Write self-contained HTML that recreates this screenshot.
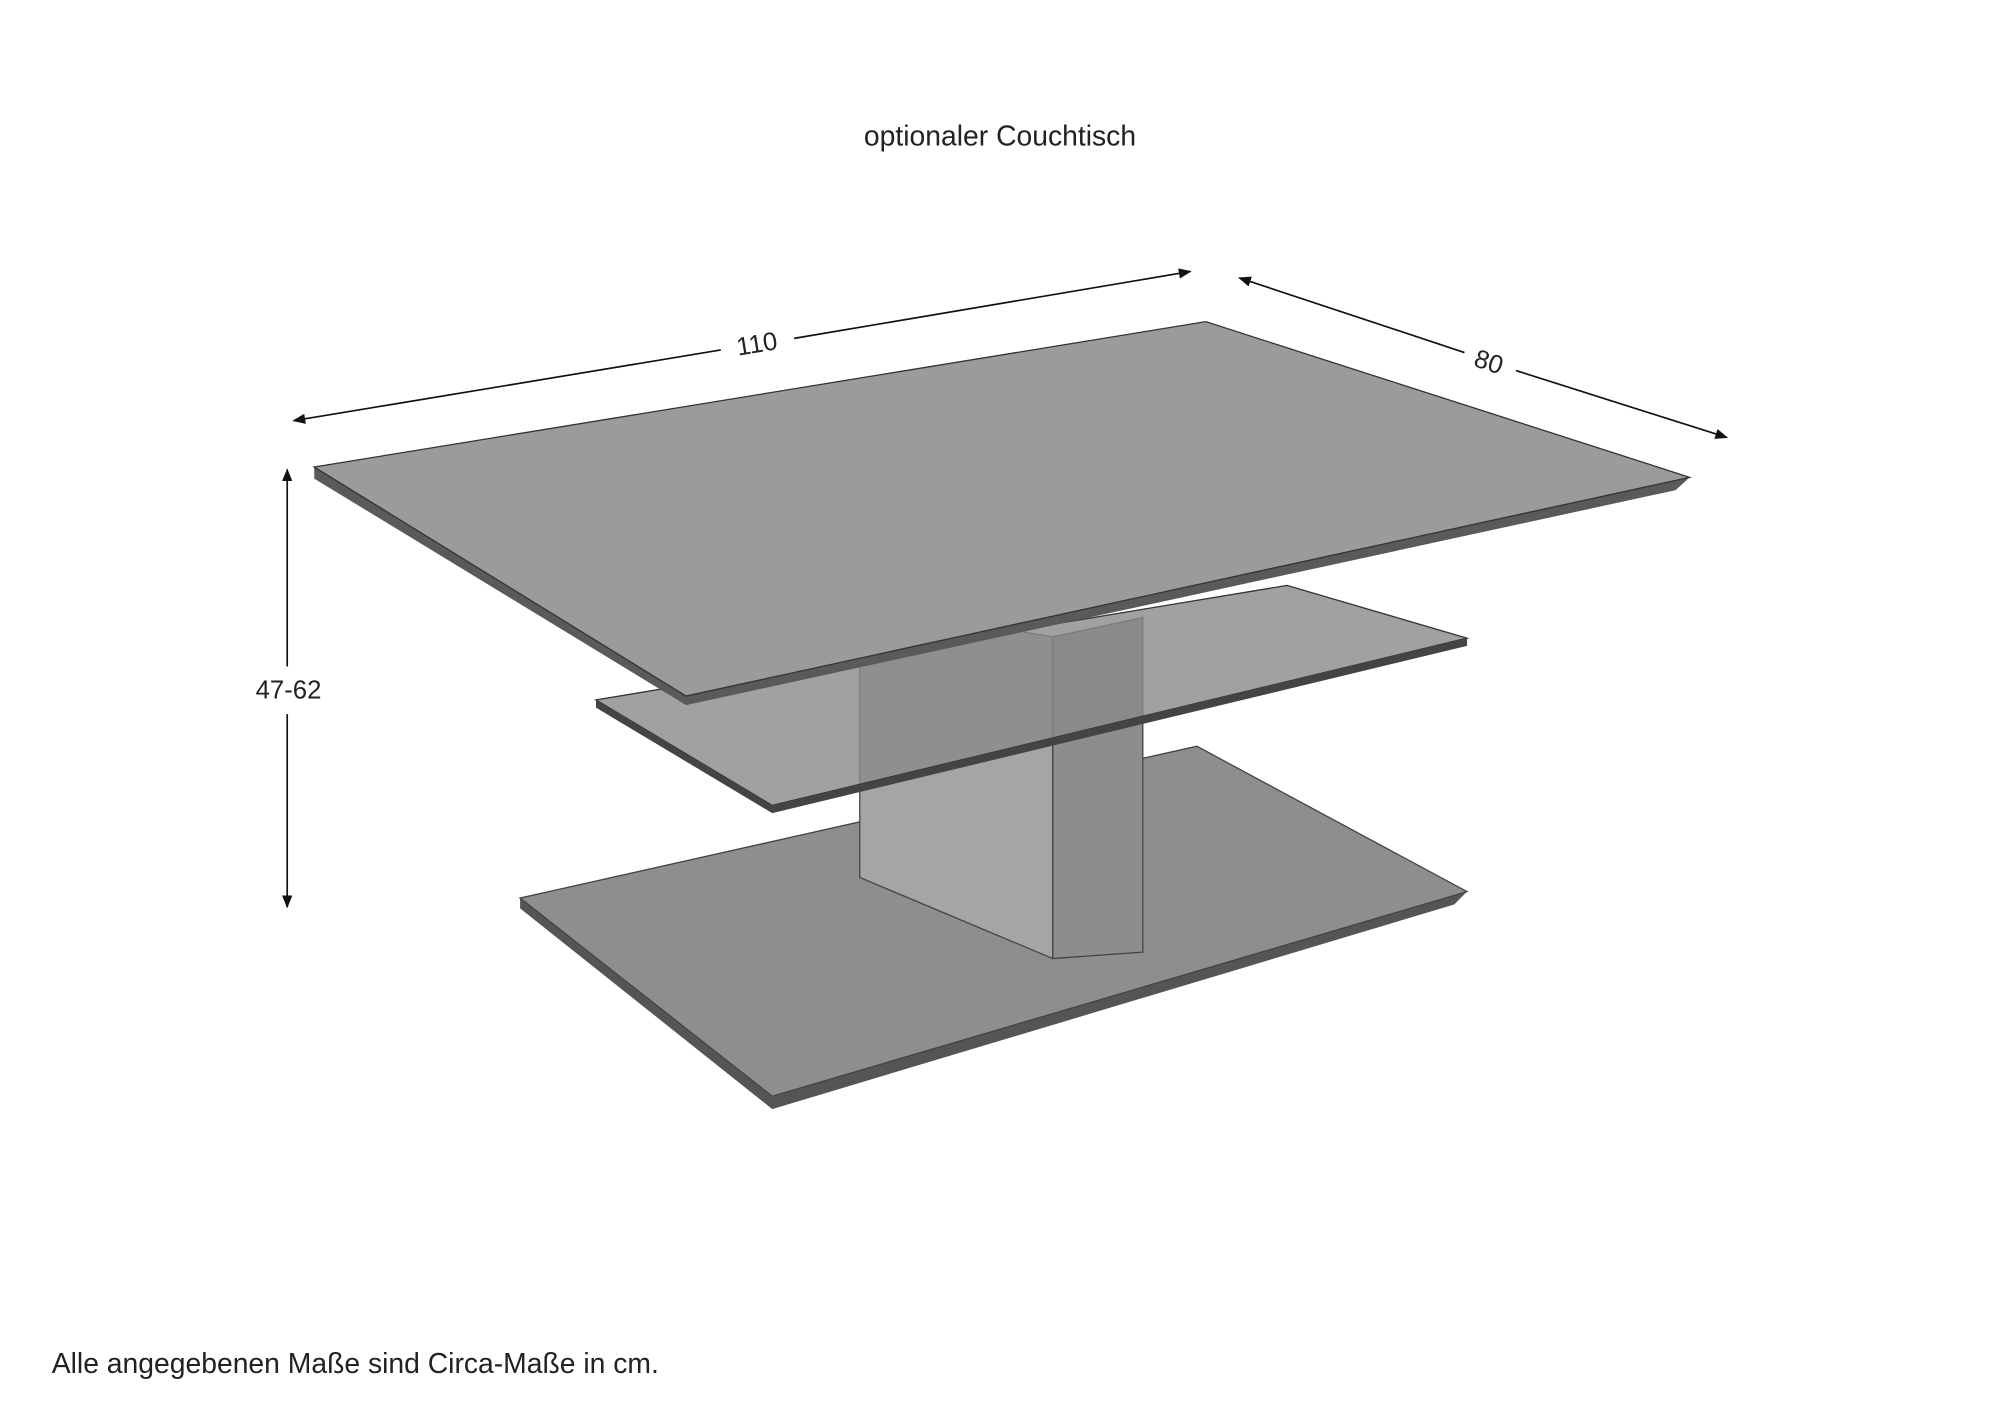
<!DOCTYPE html>
<html><head><meta charset="utf-8"><style>
html,body{margin:0;padding:0;background:#fff;}
svg{display:block;}
text{font-family:"Liberation Sans",sans-serif;fill:#222;}
</style></head><body>
<svg width="2000" height="1414" viewBox="0 0 1554 1099" xmlns="http://www.w3.org/2000/svg">
<defs>
<marker id="a" markerWidth="10" markerHeight="8" refX="9" refY="4" orient="auto" markerUnits="userSpaceOnUse"><path d="M0,0 L10,4 L0,8 z" fill="#111"/></marker>
</defs>
<text x="777" y="113" font-size="22" text-anchor="middle">optionaler Couchtisch</text>
<!-- base -->
<polygon points="404,698 404,706 600,862 1130,703 1140,693 600,852" fill="#555"/>
<polygon points="404,698 930,580 1140,693 600,852" fill="#8e8e8e" stroke="#444" stroke-width="1"/>
<!-- column -->
<polygon points="668,470 818,495 818,745 668,682" fill="#a5a5a5" stroke="#444"/>
<polygon points="818,495 888,480 888,740 818,745" fill="#8d8d8d" stroke="#444"/>
<!-- shelf -->
<polygon points="463,544 1000,455 1140,496 600,626" fill="#8a8a8a" fill-opacity="0.8" stroke="#333"/>
<polygon points="463,544 463,550 600,632 1140,502 1140,496 600,626" fill="#444"/>
<!-- tabletop -->
<polygon points="244,363 244,372 533,548 1302,381 1313,371 533,541" fill="#5a5a5a"/>
<polygon points="244,363 937,250 1313,371 533,541" fill="#9b9b9b" stroke="#333"/>
<!-- dimensions -->
<line x1="560" y1="272" x2="228" y2="327" stroke="#111" stroke-width="1.3" marker-end="url(#a)"/>
<line x1="617" y1="263" x2="925" y2="211" stroke="#111" stroke-width="1.3" marker-end="url(#a)"/>
<text x="588" y="274" font-size="20" text-anchor="middle" transform="rotate(-9.4 588 267)">110</text>
<line x1="1138" y1="274" x2="963" y2="216" stroke="#111" stroke-width="1.3" marker-end="url(#a)"/>
<line x1="1178" y1="288" x2="1342" y2="340" stroke="#111" stroke-width="1.3" marker-end="url(#a)"/>
<text x="1157" y="288" font-size="20" text-anchor="middle" transform="rotate(18 1157 281)">80</text>
<line x1="223" y1="518" x2="223" y2="365" stroke="#111" stroke-width="1.3" marker-end="url(#a)"/>
<line x1="223" y1="555" x2="223" y2="705" stroke="#111" stroke-width="1.3" marker-end="url(#a)"/>
<text x="224" y="543" font-size="20" text-anchor="middle">47-62</text>
<text x="40" y="1067" font-size="22">Alle angegebenen Maße sind Circa-Maße in cm.</text>
</svg>
</body></html>
